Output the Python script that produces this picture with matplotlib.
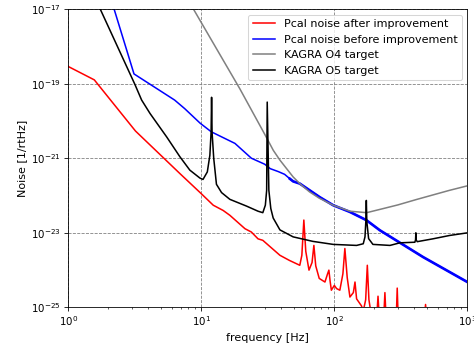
import numpy as np
import matplotlib
matplotlib.use('Agg')
import matplotlib.pyplot as plt

# Pcal noise after improvement
freqAfter = [1.0, 1.57, 3.2, 6.9, 10.0, 12.3, 14.6, 16.4, 21.3, 23.8, 26.7, 29, 39, 46,
             55, 57, 59, 61, 64.5, 68, 70.2, 72.5, 77, 85, 89, 91, 93, 95, 100, 104, 110,
             116, 120, 125, 131, 139, 143, 147, 160, 165, 172, 177, 182, 190, 208, 213,
             218, 235, 240, 245, 292, 297, 302, 475, 485, 495, 1000]
noiseAfter = [2.88e-19, 1.26e-19, 5.37e-21, 3.89e-22, 1.12e-22, 5.5e-23, 3.98e-23,
              2.95e-23, 1.29e-23, 1.05e-23, 6.9e-24, 6.3e-24, 2.5e-24, 1.82e-24,
              1.35e-24, 2.5e-24, 2.2e-23, 3.2e-24, 1.0e-24, 1.6e-24, 4.6e-24, 1.3e-24,
              6.0e-25, 4.8e-25, 8.0e-25, 1.0e-24, 5.0e-25, 2.9e-25, 3.9e-25, 3.2e-25,
              2.9e-25, 8.0e-25, 3.8e-24, 6.3e-25, 1.9e-25, 2.5e-25, 4.8e-25, 1.7e-25,
              1.1e-25, 8.0e-26, 1.6e-25, 1.35e-24, 1.6e-25, 6.0e-26, 5.0e-26, 2.0e-25,
              5.0e-26, 5.0e-26, 2.5e-25, 5.0e-26, 5.0e-26, 3.3e-25, 5.0e-26, 5.0e-26,
              1.2e-25, 5.0e-26, 3.0e-26]

# Pcal noise before improvement
freqBefore = [2.0, 3.12, 6.3, 7.5, 9.8, 11.9, 17.9, 23.8, 30, 33, 38, 42.3, 46.3, 49,
              55, 77.5, 98, 131, 174, 220, 465, 1000]
noiseBefore = [3.2e-17, 1.82e-19, 3.63e-20, 2.14e-20, 8.7e-21, 5.1e-21, 2.5e-21, 1.0e-21,
               6.9e-22, 5.25e-22, 4.37e-22, 3.7e-22, 2.82e-22, 2.4e-22, 2.09e-22,
               9.1e-23, 5.5e-23, 3.63e-23, 2.19e-23, 1.17e-23, 2.24e-24, 4.8e-25]

# KAGRA O4 target
freqO4 = [8.0, 19.5, 30, 34.8, 39, 43.8, 49, 55, 65, 77, 98, 131, 175, 233, 300, 413,
          735, 1000]
noiseO4 = [1.7e-17, 7.24e-20, 4.37e-21, 1.62e-21, 8.9e-22, 5.25e-22, 3.16e-22, 2.09e-22,
           1.26e-22, 8.5e-23, 5.5e-23, 3.8e-23, 3.47e-23, 4.47e-23, 5.6e-23, 7.8e-23,
           1.38e-22, 1.82e-22]

# KAGRA O5 target
freqO5 = [1.6, 3.17, 3.56, 4.12, 5.5, 6.9, 8.2, 9.75, 10.3, 11.1, 11.6, 11.85, 11.95,
          12.05, 12.4, 13.0, 14.2, 16.4, 21.9, 26.7, 29.0, 30.3, 31.0, 31.3, 32.2, 33.3,
          34.7, 39, 49, 69, 98, 147, 165, 170, 172.5, 174, 175.5, 181, 195, 262, 311,
          403, 408, 410, 412, 420, 550, 735, 1000]
noiseO5 = [1.9e-17, 9.5e-20, 3.63e-20, 1.58e-20, 3.7e-21, 1.1e-21, 4.8e-22, 2.95e-22,
           2.7e-22, 4.3e-22, 1.2e-21, 5.0e-21, 4.3e-20, 5.0e-21, 1.0e-21, 2.0e-22,
           1.2e-22, 7.9e-23, 5.2e-23, 3.8e-23, 3.47e-23, 5.5e-23, 1.38e-22, 3.2e-20,
           1.38e-22, 4.5e-23, 2.5e-23, 1.2e-23, 7.8e-24, 5.9e-24, 4.9e-24, 4.6e-24,
           5.1e-24, 7.8e-24, 2.0e-23, 7.4e-23, 2.0e-23, 7.0e-24, 4.9e-24, 4.6e-24,
           5.4e-24, 5.6e-24, 6.5e-24, 1.0e-23, 6.5e-24, 5.8e-24, 6.9e-24, 8.5e-24,
           1.0e-23]

yTicks = [1e-17, 1e-19, 1e-21, 1e-23, 1e-25]


def showNoise():
    # 474x347 pixels
    fig = plt.figure(figsize=(474 / 74, 347 / 74), dpi=74)
    ax = fig.add_axes([0.144, 0.114, 0.842, 0.86])

    ax.loglog(freqAfter, noiseAfter, color='red', label='Pcal noise after improvement')
    ax.loglog(freqBefore, noiseBefore, color='blue', label='Pcal noise before improvement')
    # the measured noise is jagged above ~45 Hz, draw that part a bit thicker
    fb = np.array(freqBefore)
    nb = np.array(noiseBefore)
    ax.loglog(fb[fb >= 46], nb[fb >= 46], color='blue', lw=2.6)
    ax.loglog(freqO4, noiseO4, color='gray', label='KAGRA O4 target')
    ax.loglog(freqO5, noiseO5, color='black', label='KAGRA O5 target')

    ax.set_xlim(1, 1000)
    ax.set_ylim(1e-25, 1e-17)
    ax.set_yticks(yTicks)
    ax.yaxis.set_minor_locator(matplotlib.ticker.NullLocator())
    ax.tick_params(labelsize=10)

    # grid
    ax.grid(True, which='major', ls='--', color='gray')

    ax.set_xlabel('frequency [Hz]', fontsize=10.8)
    ax.set_ylabel('Noise [1/rtHz]', fontsize=10.8)
    ax.legend(loc='upper right', fontsize=10.8)

    fig.savefig('out.png', dpi=74)


if __name__ == '__main__':
    showNoise()
